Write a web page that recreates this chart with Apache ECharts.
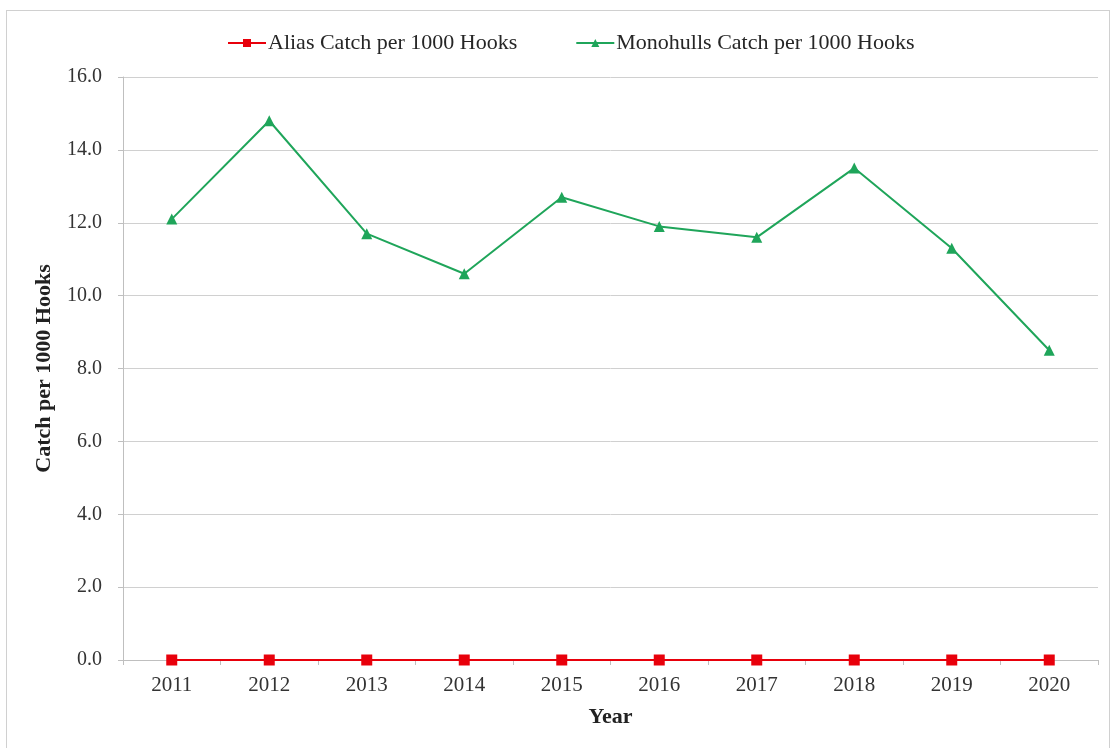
<!DOCTYPE html>
<html>
<head>
<meta charset="utf-8">
<script src="https://cdn.jsdelivr.net/npm/echarts@6/dist/echarts.min.js"></script>
<style>
html,body{margin:0;padding:0;background:#fff;}
#frame{position:absolute;left:6px;top:10px;width:1104px;height:745px;border:1px solid #d0d0d0;box-sizing:border-box;}
#chart{position:absolute;left:0;top:0;width:1114px;height:748px;}
</style>
</head>
<body>
<div id="frame"></div>
<div id="chart"></div>
<script>
var years = ['2011','2012','2013','2014','2015','2016','2017','2018','2019','2020'];
var aliasCatch = [0,0,0,0,0,0,0,0,0,0];
var monohullsCatch = [12.1,14.8,11.7,10.6,12.7,11.9,11.6,13.5,11.3,8.5];
var seriesNames = ['Alias Catch per 1000 Hooks','Monohulls Catch per 1000 Hooks'];

var chart = echarts.init(document.getElementById('chart'), null, {renderer:'canvas'});
var font = 'Liberation Serif';
chart.setOption({
  animation:false,
  textStyle:{fontFamily:font},
  legend:{
    top:27, left:222, itemGap:58, itemWidth:38, itemHeight:10,
    textStyle:{fontFamily:font, fontSize:22, color:'#262626', padding:[0,0,0,-3]},
    data:seriesNames
  },
  grid:{left:123, right:16, top:77, bottom:88},
  xAxis:{
    type:'category', data:years, boundaryGap:true,
    name:'Year', nameLocation:'middle', nameGap:46,
    nameTextStyle:{fontFamily:font, fontSize:22, fontWeight:'bold', color:'#222'},
    axisLine:{lineStyle:{color:'#bfbfbf', width:1}},
    axisTick:{show:true, length:5, lineStyle:{color:'#bfbfbf'}},
    axisLabel:{fontFamily:font, fontSize:21, color:'#333', margin:15}
  },
  yAxis:{
    type:'value', min:0, max:16, interval:2,
    name:'Catch per 1000 Hooks', nameLocation:'middle', nameGap:68,
    nameTextStyle:{fontFamily:font, fontSize:22, fontWeight:'bold', color:'#222'},
    axisLine:{show:true, lineStyle:{color:'#bfbfbf'}},
    axisTick:{show:true, length:5, lineStyle:{color:'#bfbfbf'}},
    axisLabel:{fontFamily:font, fontSize:20, color:'#333', margin:21, formatter:function(v){return v.toFixed(1);}},
    splitLine:{lineStyle:{color:'#d0d0d0', width:1}}
  },
  series:[
    {name:seriesNames[0], type:'line', data:aliasCatch, symbol:'rect', symbolSize:11,
     itemStyle:{color:'#e8000b'}, lineStyle:{color:'#e8000b', width:2}, z:3},
    {name:seriesNames[1], type:'line', data:monohullsCatch, symbol:'triangle', symbolSize:11,
     itemStyle:{color:'#1fa55a'}, lineStyle:{color:'#1fa55a', width:2}, z:2}
  ]
});
</script>
</body>
</html>
